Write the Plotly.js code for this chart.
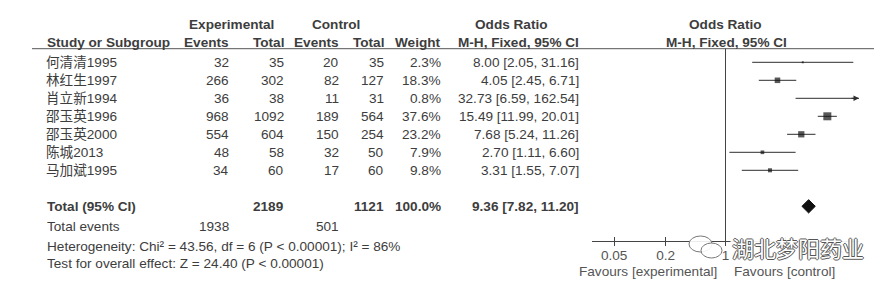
<!DOCTYPE html>
<html>
<head>
<meta charset="utf-8">
<script src="https://cdn.plot.ly/plotly-3.0.1.min.js"></script>
<style>html,body{margin:0;padding:0;background:#fff;}#chart{width:892px;height:287px;}</style>
</head>
<body>
<div id="chart"></div>
<script>
// ---------- data ----------
const studies    = ['何清清1995','林红生1997','肖立新1994','邵玉英1996','邵玉英2000','陈城2013','马加斌1995'];
const expEvents  = [32, 266, 36, 968, 554, 48, 34];
const expTotal   = [35, 302, 38, 1092, 604, 58, 60];
const ctrlEvents = [20, 82, 11, 189, 150, 32, 17];
const ctrlTotal  = [35, 127, 31, 564, 254, 50, 60];
const weights    = [2.3, 18.3, 0.8, 37.6, 23.2, 7.9, 9.8];
const oddsRatio  = [8.00, 4.05, 32.73, 15.49, 7.68, 2.70, 3.31];
const ciLow      = [2.05, 2.45, 6.59, 11.99, 5.24, 1.11, 1.55];
const ciHigh     = [31.16, 6.71, 162.54, 20.01, 11.26, 6.60, 7.07];
const totalOR    = [9.36, 7.82, 11.20];   // estimate, low, high
const totalWeight = 100.0;
const totalExp   = 2189, totalCtrl = 1121;
const eventsExp  = 1938, eventsCtrl = 501;
const heteroText = 'Heterogeneity: Chi² = 43.56, df = 6 (P < 0.00001); I² = 86%';
const effectText = 'Test for overall effect: Z = 24.40 (P < 0.00001)';
const tickVals   = [0.05, 0.2, 1, 5, 20];
const tickLabels = ['0.05', '0.2', '1', '5', '20'];

// ---------- layout helpers ----------
const W = 892, H = 287;
const ROW0 = 62.3, ROWH = 18;
const rowOfPx = p => (p - ROW0) / ROWH;
const px = v => v / W;
const py = v => 1 - v / H;
const COL = {name:45, expEv:231, expTot:286, ctlEv:341, ctlTot:385.5, weight:442.5, or:580.5};
const XLOG = [-1.56, 1.56];
const FONT = 'Liberation Sans, Arial, sans-serif';
const CJK = 'Liberation Sans, Noto Sans CJK SC, sans-serif';
const TXT = '#3d3d3d';
const FS = 13.6;

const ann = [];
function t(text, x, row, anchor, opts) {
  ann.push(Object.assign({
    text: text, xref: 'paper', yref: 'y', x: px(x), y: row,
    xanchor: anchor, yanchor: 'middle', showarrow: false,
    font: {family: FONT, size: FS, color: TXT}
  }, opts || {}));
}

// headers
const hRow1 = rowOfPx(24), hRow2 = rowOfPx(42.3);
t('<b>Experimental</b>', 232, hRow1, 'center');
t('<b>Control</b>', 336, hRow1, 'center');
t('<b>Odds Ratio</b>', 511.7, hRow1, 'center');
t('<b>Odds Ratio</b>', 725.8, hRow1, 'center');
t('<b>Study or Subgroup</b>', COL.name, hRow2, 'left');
t('<b>Events</b>', COL.expEv, hRow2, 'right');
t('<b>Total</b>', COL.expTot, hRow2, 'right');
t('<b>Events</b>', COL.ctlEv, hRow2, 'right');
t('<b>Total</b>', COL.ctlTot, hRow2, 'right');
t('<b>Weight</b>', COL.weight, hRow2, 'right');
t('<b>M-H, Fixed, 95% CI</b>', COL.or, hRow2, 'right');
t('<b>M-H, Fixed, 95% CI</b>', 726.3, hRow2, 'center');

// study rows
studies.forEach((s, i) => {
  t(s, COL.name - 1, i, 'left', {font: {family: CJK, size: FS, color: TXT}});
  t(String(expEvents[i]), COL.expEv, i, 'right');
  t(String(expTotal[i]), COL.expTot, i, 'right');
  t(String(ctrlEvents[i]), COL.ctlEv, i, 'right');
  t(String(ctrlTotal[i]), COL.ctlTot, i, 'right');
  t(weights[i].toFixed(1) + '%', COL.weight, i, 'right');
  t(oddsRatio[i].toFixed(2) + ' [' + ciLow[i].toFixed(2) + ', ' + ciHigh[i].toFixed(2) + ']', COL.or, i, 'right');
});

// totals
const totRow = studies.length + 1;
t('<b>Total (95% CI)</b>', COL.name, totRow, 'left');
t('<b>' + totalExp + '</b>', COL.expTot, totRow, 'right');
t('<b>' + totalCtrl + '</b>', COL.ctlTot, totRow, 'right');
t('<b>' + totalWeight.toFixed(1) + '%</b>', COL.weight, totRow, 'right');
t('<b>' + totalOR[0].toFixed(2) + ' [' + totalOR[1].toFixed(2) + ', ' + totalOR[2].toFixed(2) + ']</b>', COL.or, totRow, 'right');
const evRow = rowOfPx(226);
t('Total events', COL.name, evRow, 'left');
t(String(eventsExp), COL.expEv, evRow, 'right');
t(String(eventsCtrl), COL.ctlEv, evRow, 'right');
t(heteroText, COL.name, rowOfPx(246), 'left');
t(effectText, COL.name, rowOfPx(263.3), 'left');

// favours labels
t('Favours [experimental]', 719.3, rowOfPx(271.2), 'right', {font: {family: FONT, size: FS, color: '#555'}});
t('Favours [control]', 731.7, rowOfPx(271.2), 'left', {font: {family: FONT, size: FS, color: '#555'}});

// ---------- traces ----------
const ciX = [], ciY = [];
studies.forEach((s, i) => { ciX.push(ciLow[i], ciHigh[i], null); ciY.push(i, i, null); });
const traces = [
  {type: 'scatter', mode: 'lines', x: ciX, y: ciY, line: {color: '#2e2e2e', width: 1}, hoverinfo: 'skip', showlegend: false},
  {type: 'scatter', mode: 'markers', x: oddsRatio, y: studies.map((s, i) => i),
   marker: {symbol: 'square', color: '#111', size: weights.map(w => 1.3 * Math.sqrt(w)), line: {width: 0}},
   showlegend: false, cliponaxis: false},
  {type: 'scatter', mode: 'lines', fill: 'toself', fillcolor: '#111',
   x: [totalOR[1], totalOR[0], totalOR[2], totalOR[0], totalOR[1]],
   y: [totRow, totRow - 0.37, totRow, totRow + 0.37, totRow],
   line: {color: '#111', width: 1}, showlegend: false}
];

// arrows for CIs beyond the axis
const xMax = Math.pow(10, XLOG[1]);
studies.forEach((s, i) => {
  if (ciHigh[i] > xMax) {
    ann.push({x: XLOG[1], y: i, xref: 'x', yref: 'y', ax: -9, ay: 0, text: '',
      showarrow: true, arrowhead: 2, arrowsize: 1.1, arrowwidth: 1, arrowcolor: '#2e2e2e'});
  }
});

// watermark
ann.push({text: '湖北梦阳药业', xref: 'paper', yref: 'paper', x: px(798), y: py(246.5),
  xanchor: 'center', yanchor: 'middle', showarrow: false, bgcolor: 'rgba(255,255,255,0.92)',
  font: {family: 'Noto Sans CJK SC', size: 22, color: '#ffffff',
         shadow: '1px 0 0 #555, -1px 0 0 #555, 0 1px 0 #555, 0 -1px 0 #555'}});

const axisPos = py(240.7);
const layout = {
  width: W, height: H,
  margin: {l: 0, r: 0, t: 0, b: 0},
  paper_bgcolor: '#fff', plot_bgcolor: 'rgba(0,0,0,0)',
  showlegend: false,
  xaxis: {
    type: 'log', range: XLOG, domain: [px(592), px(859)],
    anchor: 'free', position: axisPos,
    showgrid: false, zeroline: false, showline: true, linecolor: '#444', linewidth: 1,
    tickmode: 'array', tickvals: tickVals, ticktext: tickLabels,
    ticks: 'outside', ticklen: 4, tickcolor: '#444', tickwidth: 1,
    minor: {tickmode: 'array', tickvals: tickVals, ticks: 'inside', ticklen: 4, tickcolor: '#444', tickwidth: 1},
    tickfont: {family: FONT, size: FS, color: '#555'}, ticklabelstandoff: -2,
    fixedrange: true
  },
  yaxis: {
    range: [rowOfPx(H), rowOfPx(0)], domain: [0, 1],
    visible: false, showgrid: false, zeroline: false, fixedrange: true
  },
  shapes: [
    {type: 'line', xref: 'paper', yref: 'paper', x0: px(32), x1: px(874), y0: py(48.7), y1: py(48.7),
     line: {color: '#555', width: 1}},
    {type: 'line', xref: 'x', yref: 'paper', x0: 1, x1: 1, y0: axisPos, y1: py(48.7),
     line: {color: '#444', width: 1}},
    {type: 'circle', xref: 'paper', yref: 'paper', x0: px(689), x1: px(712), y0: py(252), y1: py(236),
     line: {color: '#777', width: 1}, fillcolor: 'rgba(255,255,255,0.9)'},
    {type: 'circle', xref: 'paper', yref: 'paper', x0: px(701), x1: px(722), y0: py(258), y1: py(243),
     line: {color: '#777', width: 1}, fillcolor: 'rgba(255,255,255,0.9)'}
  ],
  annotations: ann
};

Plotly.newPlot('chart', traces, layout, {staticPlot: true, displayModeBar: false});
</script>
</body>
</html>
